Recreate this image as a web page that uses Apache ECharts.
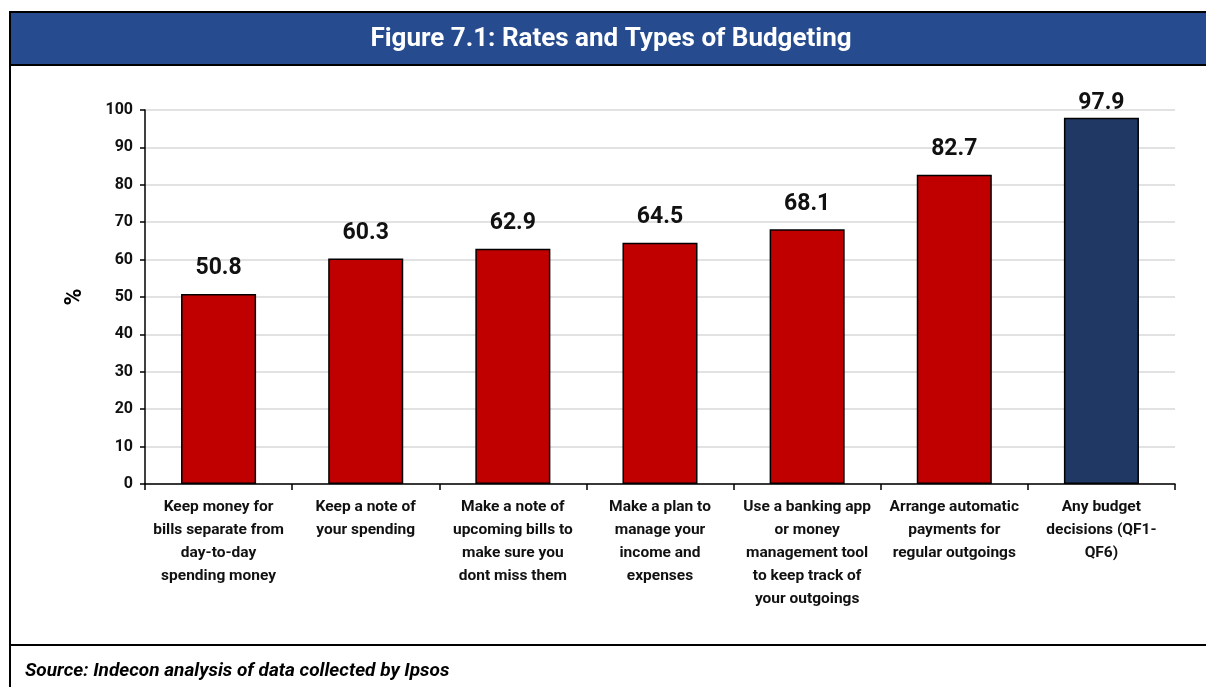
<!DOCTYPE html>
<html>
<head>
<meta charset="utf-8">
<style>
  html, body { margin: 0; padding: 0; background: #ffffff; }
  #chart { width: 1206px; height: 687px; }
</style>
<script src="https://cdn.jsdelivr.net/npm/echarts@6/dist/echarts.min.js"></script>
</head>
<body>
<div id="chart"></div>
<script>
// Budgeting behaviours (share of respondents, %)
const categories = [
  'Keep money for\nbills separate from\nday-to-day\nspending money',
  'Keep a note of\nyour spending',
  'Make a note of\nupcoming bills to\nmake sure you\ndont miss them',
  'Make a plan to\nmanage your\nincome and\nexpenses',
  'Use a banking app\nor money\nmanagement tool\nto keep track of\nyour outgoings',
  'Arrange automatic\npayments for\nregular outgoings',
  'Any budget\ndecisions (QF1-\nQF6)'
];
const values = [50.8, 60.3, 62.9, 64.5, 68.1, 82.7, 97.9];
const yTicks = [0, 10, 20, 30, 40, 50, 60, 70, 80, 90, 100];

const titleText = 'Figure 7.1: Rates and Types of Budgeting';
const sourceText = 'Source: Indecon analysis of data collected by Ipsos';

const FONT = 'Roboto, "Noto Sans", sans-serif';
const RED = '#c00000';
const NAVY = '#203864';
const BAND = '#264b8f';

const chart = echarts.init(document.getElementById('chart'), null, { renderer: 'canvas' });

const barData = values.map((v, i) => {
  const isTotal = i === values.length - 1;
  return {
    value: v,
    itemStyle: { color: isTotal ? NAVY : RED },
    label: { distance: isTotal ? 3 : 14 }
  };
});

chart.setOption({
  animation: false,
  backgroundColor: '#ffffff',
  grid: { left: 145, right: 31, top: 110, bottom: 203, containLabel: false },
  xAxis: {
    type: 'category',
    data: categories,
    boundaryGap: true,
    axisLine: { lineStyle: { color: '#000', width: 1.5 } },
    axisTick: { show: true, length: 6, lineStyle: { color: '#000', width: 1.5 } },
    axisLabel: {
      interval: 0,
      color: '#111',
      fontFamily: FONT,
      fontWeight: 'bold',
      fontSize: 15.5,
      lineHeight: 23,
      margin: 12
    }
  },
  yAxis: {
    type: 'value',
    min: yTicks[0],
    max: yTicks[yTicks.length - 1],
    interval: 10,
    name: '%',
    nameLocation: 'middle',
    nameGap: 58,
    nameRotate: 90,
    nameTextStyle: { color: '#000', fontFamily: FONT, fontWeight: 'bold', fontSize: 23 },
    axisLine: { show: true, lineStyle: { color: '#000', width: 1.5 } },
    axisTick: { show: true, length: 5, lineStyle: { color: '#000', width: 1.5 } },
    axisLabel: {
      color: '#111',
      fontFamily: FONT,
      fontWeight: 'bold',
      fontSize: 16,
      margin: 12
    },
    splitLine: { show: true, lineStyle: { color: '#d9d9d9', width: 1.5 } }
  },
  series: [{
    type: 'bar',
    data: barData,
    barWidth: '51%',
    itemStyle: { borderColor: '#000', borderWidth: 1.5 },
    label: {
      show: true,
      position: 'top',
      color: '#111',
      fontFamily: FONT,
      fontWeight: 'bold',
      fontSize: 23,
      formatter: p => p.value.toFixed(1)
    }
  }],
  graphic: [
    // title band
    { type: 'rect', shape: { x: 10, y: 12, width: 1200, height: 53 },
      style: { fill: BAND, stroke: '#000', lineWidth: 2 }, z: 0 },
    { type: 'text', x: 611, y: 39,
      style: { text: titleText, fill: '#fff', font: 'bold 26px ' + FONT,
               textAlign: 'center', textVerticalAlign: 'middle' } },
    // frame: left edge and source divider
    { type: 'line', shape: { x1: 10, y1: 12, x2: 10, y2: 690 },
      style: { stroke: '#000', lineWidth: 2 } },
    { type: 'line', shape: { x1: 10, y1: 645, x2: 1210, y2: 645 },
      style: { stroke: '#000', lineWidth: 2 } },
    // source note
    { type: 'text', x: 25, y: 671,
      style: { text: sourceText, fill: '#000', font: 'italic bold 19px ' + FONT,
               textAlign: 'left', textVerticalAlign: 'middle' } }
  ]
});
</script>
</body>
</html>
